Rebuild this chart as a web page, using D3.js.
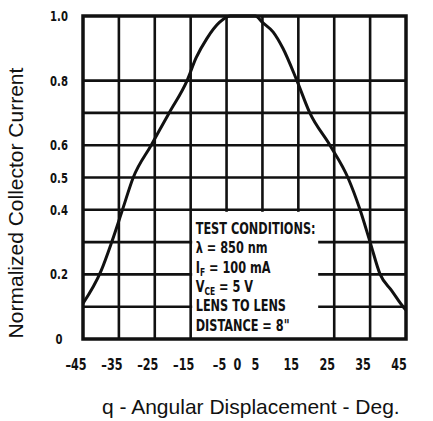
<!DOCTYPE html>
<html lang = 'en'>
    <head>
        <meta charset="utf-8">
        <title>Normalized Collector Current vs Angular Displacement</title>
        <script type='text/javascript' src='https://d3js.org/d3.v7.min.js'></script>
        <style type='text/css'>
            body {margin: 0; background: white;}
            .tick-label {font-family: 'Liberation Sans Narrow', 'DejaVu Sans Condensed', 'DejaVu Sans', sans-serif; font-weight: bold; fill: #111;}
            .title {font-family: 'Liberation Sans', Arial, sans-serif; fill: #111;}
        </style>
    </head>
<body onload='init()'>
<svg width=433 height=421></svg>
<script>
// curve: angle in degrees, normalized current
var angles = [-45, -40, -37, -34, -31, -26, -21, -16, -13.5, -10.5, -7, -4, 0, 3, 5, 8, 10.7, 14.6, 18.2, 23.8, 28.8, 32.2, 35, 37.8, 41, 44.2, 45];
var current = [0.11, 0.21, 0.30, 0.40, 0.50, 0.60, 0.70, 0.80, 0.87, 0.93, 0.98, 1.00, 1.00, 1.00, 0.98, 0.95, 0.90, 0.80, 0.70, 0.60, 0.50, 0.40, 0.30, 0.20, 0.15, 0.10, 0.09];

var xGrid = [-35, -25, -15, -5, 5, 15, 25, 35];
var xTickLabels = [-45, -35, -25, -15, -5, 0, 5, 15, 25, 35, 45];
var yGrid = [0.1, 0.2, 0.3, 0.4, 0.5, 0.6, 0.7, 0.8];
var yTickLabels = [0, 0.2, 0.4, 0.5, 0.6, 0.8, 1.0];

var testConditions = ["TEST CONDITIONS:", "λ = 850 nm", "I|F| = 100 mA", "V|CE| = 5 V", "LENS TO LENS", "DISTANCE = 8\""];

function init() {

var left = 83, right = 406, top = 16, bottom = 339;

//Create the scales
var xScale = d3.scaleLinear().domain([-45, 45]).range([left, right]);
var yScale = d3.scaleLinear().domain([0, 1]).range([bottom, top]);

var svg = d3.select('svg');

svg.append('rect').attr('width', 433).attr('height', 421).attr('fill', 'white');

//Grid lines
svg.append('g')
  .selectAll('line')
  .data(xGrid)
  .enter()
  .append('line')
    .attr('x1', function(d){return xScale(d);})
    .attr('x2', function(d){return xScale(d);})
    .attr('y1', top)
    .attr('y2', bottom)
    .attr('stroke', '#111')
    .attr('stroke-width', 2.6);

svg.append('g')
  .selectAll('line')
  .data(yGrid)
  .enter()
  .append('line')
    .attr('x1', left)
    .attr('x2', right)
    .attr('y1', function(d){return yScale(d);})
    .attr('y2', function(d){return yScale(d);})
    .attr('stroke', '#111')
    .attr('stroke-width', 2.6);

//White box for the test conditions
svg.append('rect')
  .attr('x', xScale(-15) + 1.5)
  .attr('y', yScale(0.4) + 2)
  .attr('width', 126)
  .attr('height', bottom - yScale(0.4) - 3)
  .attr('fill', 'white');

//Condensed look: squeeze the bold text sideways
var notes = svg.append('g').attr('class', 'tick-label').attr('font-size', '15px');
testConditions.forEach(function(s, i) {
    var t = notes.append('text').attr('x', 0).attr('y', i * 18.4);
    var parts = s.split('|');
    t.append('tspan').text(parts[0]);
    if (parts.length > 1) {
        t.append('tspan').attr('font-size', '10px').attr('dy', 3).text(parts[1]);
        t.append('tspan').attr('dy', -3).text(parts[2]);
    }
});
var firstWidth = notes.select('text').node().getComputedTextLength();
notes.attr('transform', 'translate(' + (xScale(-15) + 5) + ',234) scale(' + (120 / firstWidth) + ',1.05)');

//The curve
var line = d3.line()
    .x(function(d){return xScale(d[0]);})
    .y(function(d){return yScale(d[1]);})
    .curve(d3.curveMonotoneX);

svg.append('path')
  .datum(d3.zip(angles, current))
  .attr('d', line)
  .attr('fill', 'none')
  .attr('stroke', '#111')
  .attr('stroke-width', 3);

//Frame
svg.append('rect')
  .attr('x', left)
  .attr('y', top)
  .attr('width', right - left)
  .attr('height', bottom - top)
  .attr('fill', 'none')
  .attr('stroke', '#111')
  .attr('stroke-width', 3.5);

//Tick labels
svg.append('g')
  .attr('class', 'tick-label')
  .attr('font-size', '16px')
  .selectAll('text')
  .data(xTickLabels)
  .enter()
  .append('text')
    .attr('transform', function(d){return 'translate(' + (xScale(d) - 7) + ',370) scale(0.78,1)';})
    .attr('text-anchor', 'middle')
    .text(function(d){return d < 0 ? '–' + (-d) : d;});

svg.append('g')
  .attr('class', 'tick-label')
  .attr('font-size', '14px')
  .selectAll('text')
  .data(yTickLabels)
  .enter()
  .append('text')
    .attr('transform', function(d){return 'translate(59,' + (yScale(d) + 5) + ') scale(0.8,1)';})
    .attr('text-anchor', 'middle')
    .text(function(d){return d === 0 ? '0' : d.toFixed(1);});

//Titles of axes
svg.append('text')
  .attr('class', 'title')
  .attr('font-size', '21px')
  .attr('x', 102)
  .attr('y', 414)
  .text('q - Angular Displacement - Deg.');

svg.append('text')
  .attr('class', 'title')
  .attr('font-size', '21px')
  .attr('text-anchor', 'middle')
  .attr('transform', 'translate(23,203) rotate(-90)')
  .text('Normalized Collector Current');

}
</script>
</body>
</html>
